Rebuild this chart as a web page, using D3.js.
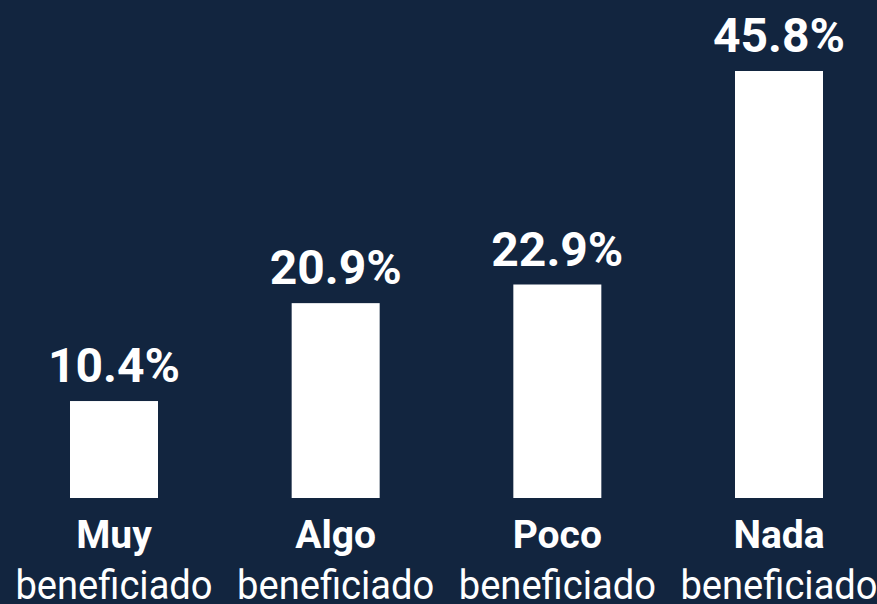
<!DOCTYPE html>
<html>
<head>
<meta charset="utf-8">
<script src="https://cdn.jsdelivr.net/npm/d3@7"></script>
<style>
  html, body { margin: 0; padding: 0; background: #12253f; }
  svg { display: block; }
  .value { fill: #fff; font-family: Roboto, "Liberation Sans", sans-serif; font-weight: 700; font-size: 48px; }
  .cat1 { fill: #fff; font-family: Roboto, "Liberation Sans", sans-serif; font-weight: 700; font-size: 39px; }
  .cat2 { fill: #fff; font-family: Roboto, "Liberation Sans", sans-serif; font-weight: 400; font-size: 41px; }
</style>
</head>
<body>
<div class="chart"></div>
<script>
// data
const categories = ["Muy", "Algo", "Poco", "Nada"];
const subLabel = "beneficiado";
const values = [10.4, 20.9, 22.9, 45.8];

const width = 877, height = 604;
const baseY = 498;

const svg = d3.select(".chart")
    .append("svg")
    .attr("width", width)
    .attr("height", height);

svg.append("rect")
    .attr("width", width)
    .attr("height", height)
    .attr("fill", "#12253f");

const x = d3.scaleBand()
    .domain(categories)
    .range([3.5, 889.5])
    .paddingInner(0.603)
    .paddingOuter(0.3);

const y = d3.scaleLinear()
    .domain([0, 45.8])
    .range([baseY, 71]);

const data = categories.map((c, i) => ({cat: c, value: values[i]}));

// bars
svg.selectAll(".bar")
    .data(data)
    .enter()
    .append("rect")
    .attr("class", "bar")
    .attr("x", d => x(d.cat))
    .attr("y", d => y(d.value))
    .attr("width", x.bandwidth())
    .attr("height", d => baseY - y(d.value))
    .attr("fill", "#fff");

// value labels
svg.selectAll(".value")
    .data(data)
    .enter()
    .append("text")
    .attr("class", "value")
    .attr("text-anchor", "middle")
    .attr("x", d => x(d.cat) + x.bandwidth() / 2)
    .attr("y", d => y(d.value) - 19)
    .text(d => d.value.toFixed(1) + "%");

// category labels
const cats = svg.selectAll(".cat")
    .data(data)
    .enter()
    .append("g")
    .attr("class", "cat")
    .attr("transform", d => `translate(${x(d.cat) + x.bandwidth() / 2},0)`);

cats.append("text")
    .attr("class", "cat1")
    .attr("text-anchor", "middle")
    .attr("y", 548)
    .text(d => d.cat);

// condensed second line
cats.append("g")
    .attr("transform", "translate(0,599) scale(0.93,1)")
    .append("text")
    .attr("class", "cat2")
    .attr("text-anchor", "middle")
    .text(subLabel);
</script>
</body>
</html>
